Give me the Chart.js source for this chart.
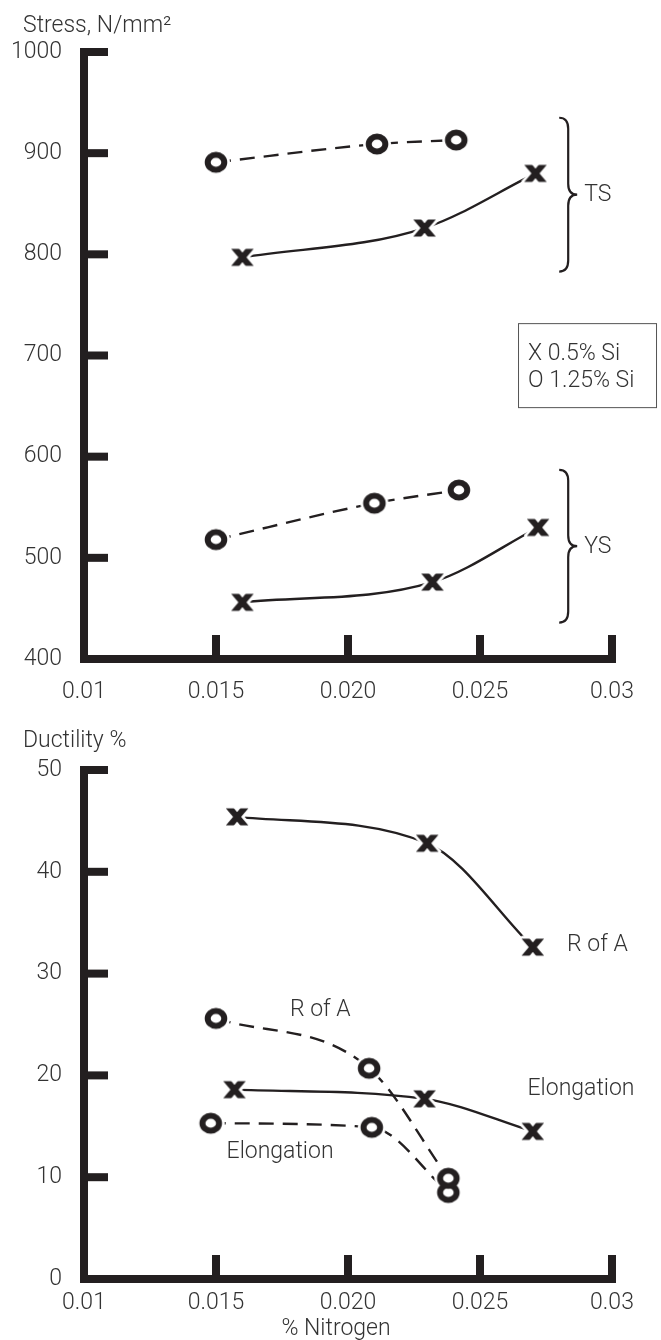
<!DOCTYPE html>
<html>
<head>
<meta charset="utf-8">
<script src="https://cdn.jsdelivr.net/npm/chart.js@4.4.1/dist/chart.umd.min.js"></script>
<style>
  html, body { margin: 0; padding: 0; background: #fff; }
  canvas { display: block; }
</style>
</head>
<body>
<canvas id="stressChart" width="661" height="700"></canvas>
<canvas id="ductChart" width="661" height="640"></canvas>
<script>
// ─── Data ─────────────────────────────────────────
const nitrogenTicks = ['0.01', '0.015', '0.020', '0.025', '0.03'];
const stressTicks   = ['400', '500', '600', '700', '800', '900', '1000'];
const ductTicks     = ['0', '10', '20', '30', '40', '50'];
const legendItems   = ['X 0.5% Si', 'O 1.25% Si'];

// Stress chart (% nitrogen / N/mm2)
const tsHighSiN  = [0.0150, 0.0211, 0.0241];
const tsHighSi   = [891, 909, 913];
const tsLowSiN   = [0.0160, 0.0229, 0.0271];
const tsLowSi    = [797, 826, 880];
const ysHighSiN  = [0.0150, 0.0210, 0.0242];
const ysHighSi   = [518, 554, 567];
const ysLowSiN   = [0.0160, 0.0232, 0.0272];
const ysLowSi    = [456, 476, 530];

// Ductility chart (% nitrogen / %)
const raLowSiN   = [0.0158, 0.0230, 0.0270];
const raLowSi    = [45.4, 42.8, 32.6];
const raHighSiN  = [0.0150, 0.0208, 0.0238];
const raHighSi   = [25.6, 20.7, 9.9];
const elLowSiN   = [0.0157, 0.0229, 0.0270];
const elLowSi    = [18.6, 17.7, 14.5];
const elHighSiN  = [0.0148, 0.0209, 0.0238];
const elHighSi   = [15.3, 14.9, 8.5];

// ─── Style ────────────────────────────────────────
const INK  = '#231f20';
const TEXT = '#333333';
const FONT = 'Roboto, "Liberation Sans", Arial, sans-serif';
const FONT_SIZE = 23;
const FONT_WEIGHT = 300;

Chart.defaults.font.family = FONT;
Chart.defaults.font.size = FONT_SIZE;
Chart.defaults.font.weight = FONT_WEIGHT;
Chart.defaults.color = TEXT;

// ─── Markers ──────────────────────────────────────
function makeRing(halo) {
  const c = document.createElement('canvas');
  c.width = 32; c.height = 30;
  const g = c.getContext('2d');
  g.translate(16, 15);
  g.beginPath();
  if (halo) {
    g.fillStyle = '#fff';
    g.ellipse(0, 0, 14, 13, 0, 0, Math.PI * 2);
    g.fill();
  } else {
    g.fillStyle = '#fff';
    g.strokeStyle = INK;
    g.lineWidth = 6;
    g.ellipse(0, 0, 8.3, 7.5, 0, 0, Math.PI * 2);
    g.fill();
    g.stroke();
  }
  return c;
}

function makeCross(halo) {
  const c = document.createElement('canvas');
  c.width = 32; c.height = 30;
  const g = c.getContext('2d');
  g.translate(16, 15);
  const e = halo ? 3 : 0;
  g.beginPath();
  g.rect(-11 - e, -8.5 - e, 22 + 2 * e, 17 + 2 * e);
  g.clip();
  g.strokeStyle = halo ? '#fff' : INK;
  g.lineWidth = halo ? 11.5 : 6.2;
  g.beginPath();
  g.moveTo(-10.2, -12); g.lineTo(10.2, 12);
  g.moveTo(10.2, -12);  g.lineTo(-10.2, 12);
  g.stroke();
  return c;
}

const ring = makeRing(false), ringHalo = makeRing(true);
const cross = makeCross(false), crossHalo = makeCross(true);

// line + white halo + marker, all from the same points
function serie(xs, ys, kind) {
  const pts = xs.map((x, i) => ({ x, y: ys[i] }));
  const isRing = kind === 'o';
  return [
    { data: pts, order: 3, borderColor: INK, borderWidth: 2.4,
      borderDash: isRing ? [15, 9] : [], cubicInterpolationMode: 'monotone',
      pointRadius: 0, fill: false },
    { data: pts, order: 2, showLine: false, pointStyle: isRing ? ringHalo : crossHalo, pointRadius: 12 },
    { data: pts, order: 1, showLine: false, pointStyle: isRing ? ring : cross, pointRadius: 12 }
  ];
}

// ─── Frame + notes plugin ────────────────────────
function drawBrace(ctx, x, y1, y2, w) {
  const m = (y1 + y2) / 2, xm = x + w * 0.5, r = 11;
  ctx.beginPath();
  ctx.moveTo(x, y1);
  ctx.quadraticCurveTo(xm, y1, xm, y1 + r);
  ctx.lineTo(xm, m - r);
  ctx.quadraticCurveTo(xm, m, x + w, m);
  ctx.quadraticCurveTo(xm, m, xm, m + r);
  ctx.lineTo(xm, y2 - r);
  ctx.quadraticCurveTo(xm, y2, x, y2);
  ctx.stroke();
}

const notesPlugin = {
  id: 'notes',
  beforeDatasetsDraw(chart) {
    const { ctx, chartArea: a, scales: { x, y } } = chart;
    const w = 8, len = 24;
    ctx.save();
    ctx.fillStyle = INK;
    ctx.fillRect(a.left - w / 2, a.top - w / 2, w, a.bottom - a.top + w);
    ctx.fillRect(a.left - w / 2, a.bottom - w / 2, a.right - a.left + w, w);
    y.ticks.forEach(t => {
      const py = y.getPixelForValue(t.value);
      if (py < a.bottom - 1) ctx.fillRect(a.left, py - w / 2, len, w);
    });
    x.ticks.forEach(t => {
      const px = x.getPixelForValue(t.value);
      if (px > a.left + 1) ctx.fillRect(px - w / 2, a.bottom - len, w, len);
    });
    ctx.restore();
  },
  afterDraw(chart, args, opts) {
    const { ctx, chartArea: a, scales: { x, y } } = chart;
    ctx.save();
    ctx.fillStyle = TEXT;
    ctx.font = FONT_WEIGHT + ' ' + FONT_SIZE + 'px ' + FONT;
    ctx.textAlign = 'left';
    ctx.textBaseline = 'alphabetic';
    if (opts.title) ctx.fillText(opts.title, a.left - 61, a.top + opts.titleDy);
    if (opts.xTitle) {
      ctx.textAlign = 'center';
      ctx.fillText(opts.xTitle, (a.left + a.right) / 2 - 12, a.bottom + 56);
      ctx.textAlign = 'left';
    }
    ctx.textBaseline = 'middle';
    (opts.braces || []).forEach(b => {
      const px = x.getPixelForValue(b.x);
      const y1 = y.getPixelForValue(b.from), y2 = y.getPixelForValue(b.to);
      ctx.strokeStyle = INK;
      ctx.lineWidth = 2.2;
      drawBrace(ctx, px, y1, y2, 18);
      ctx.fillText(b.text, px + 25, (y1 + y2) / 2 + 1);
    });
    (opts.labels || []).forEach(l => {
      ctx.fillText(l.text, x.getPixelForValue(l.x), y.getPixelForValue(l.y));
    });
    if (opts.legend) {
      const lx = x.getPixelForValue(opts.legend.x), ly = y.getPixelForValue(opts.legend.y);
      ctx.strokeStyle = '#555';
      ctx.lineWidth = 1;
      ctx.strokeRect(lx + 0.5, ly + 0.5, 138, 84);
      opts.legend.items.forEach((t, i) => ctx.fillText(t, lx + 10, ly + 31 + i * 27));
    }
    ctx.restore();
  }
};

// ─── Charts ───────────────────────────────────────
function buildChart(id, datasets, yMin, yMax, yStep, yLabels, xPad, axisH, topPad, notes) {
  return new Chart(document.getElementById(id), {
    type: 'line',
    data: { datasets },
    plugins: [notesPlugin],
    options: {
      responsive: false,
      animation: false,
      events: [],
      layout: { padding: { top: topPad, right: 49, bottom: 0, left: 0 } },
      plugins: { legend: { display: false }, tooltip: { enabled: false }, notes },
      scales: {
        x: {
          type: 'linear', min: 0.01, max: 0.03,
          grid: { display: false, drawTicks: false },
          border: { display: false },
          afterFit: s => { s.height = axisH; },
          ticks: {
            stepSize: 0.005, autoSkip: false, maxRotation: 0, padding: xPad,
            callback: (v, i) => nitrogenTicks[i]
          }
        },
        y: {
          min: yMin, max: yMax,
          grid: { display: false, drawTicks: false },
          border: { display: false },
          afterFit: s => { s.width = 84; },
          ticks: { stepSize: yStep, padding: 22, callback: (v, i) => yLabels[i] }
        }
      }
    }
  });
}

const stressSets = [
  ...serie(tsHighSiN, tsHighSi, 'o'),
  ...serie(tsLowSiN, tsLowSi, 'x'),
  ...serie(ysHighSiN, ysHighSi, 'o'),
  ...serie(ysLowSiN, ysLowSi, 'x')
];

const ductSets = [
  ...serie(raLowSiN, raLowSi, 'x'),
  ...serie(raHighSiN, raHighSi, 'o'),
  ...serie(elLowSiN, elLowSi, 'x'),
  ...serie(elHighSiN, elHighSi, 'o')
];

buildChart('stressChart', stressSets, 400, 1000, 100, stressTicks, 19, 41, 52, {
  title: 'Stress, N/mm²', titleDy: -20,
  braces: [
    { x: 0.0280, from: 935, to: 783, text: 'TS' },
    { x: 0.0280, from: 587, to: 436, text: 'YS' }
  ],
  legend: { x: 0.02644, y: 732, items: legendItems }
});

buildChart('ductChart', ductSets, 0, 50, 10, ductTicks, 10, 61, 70, {
  title: 'Ductility %', titleDy: -23,
  xTitle: '% Nitrogen',
  labels: [
    { x: 0.0283, y: 32.8, text: 'R of A' },
    { x: 0.0178, y: 26.4, text: 'R of A' },
    { x: 0.0268, y: 18.6, text: 'Elongation' },
    { x: 0.0154, y: 12.5, text: 'Elongation' }
  ]
});
</script>
</body>
</html>
